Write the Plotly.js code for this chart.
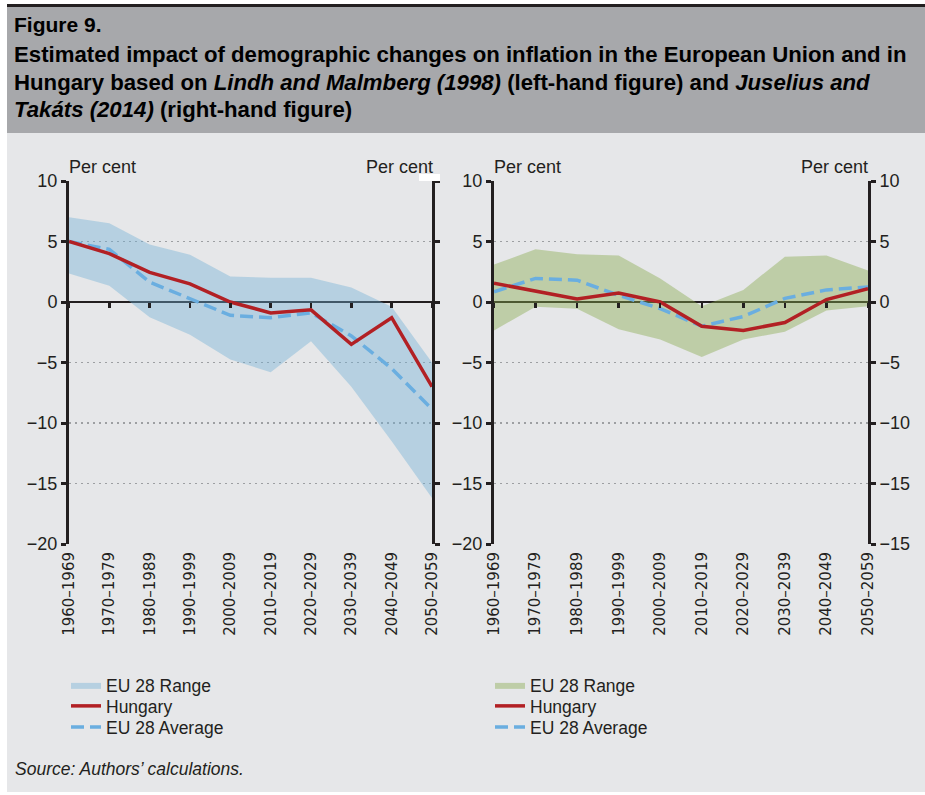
<!DOCTYPE html>
<html><head><meta charset="utf-8">
<script src="https://cdn.plot.ly/plotly-3.0.1.min.js"></script>
<style>html,body{margin:0;padding:0;background:#fff;} #chart{width:925px;height:795px;}</style>
</head><body><div id="chart"></div>
<script>
const periods = ['1960–1969','1970–1979','1980–1989','1990–1999','2000–2009','2010–2019','2020–2029','2030–2039','2040–2049','2050–2059'];
// Left: Lindh and Malmberg (1998)
const lmHungary   = [5.0, 4.0, 2.45, 1.5, 0.0, -0.9, -0.65, -3.5, -1.3, -7.0];
const lmAverage   = [5.0, 4.35, 1.65, 0.3, -1.1, -1.3, -0.9, -2.8, -5.5, -8.85];
const lmRangeHigh = [7.0, 6.5, 4.75, 3.9, 2.1, 2.0, 2.0, 1.2, -0.4, -5.0];
const lmRangeLow  = [2.35, 1.35, -1.25, -2.7, -4.75, -5.8, -3.25, -7.0, -11.5, -16.2];
// Right: Juselius and Takáts (2014)
const jtHungary   = [1.55, 0.9, 0.25, 0.75, 0.0, -2.0, -2.35, -1.7, 0.2, 1.1];
const jtAverage   = [0.85, 1.95, 1.8, 0.55, -0.55, -2.0, -1.2, 0.3, 1.0, 1.25];
const jtRangeHigh = [3.1, 4.35, 3.95, 3.85, 1.95, -0.35, 1.0, 3.75, 3.85, 2.6];
const jtRangeLow  = [-2.35, -0.4, -0.55, -2.25, -3.1, -4.55, -3.1, -2.45, -0.7, -0.35];
// Tick labels
const yTickVals = [10, 5, 0, -5, -10, -15, -20];
const yTickText = ['10', '5', '0', '−5', '−10', '−15', '−20'];
const y4TickText = ['10', '5', '0', '−5', '−10', '−15', '−15'];

const W = 925, H = 795;
const px = v => v / W;
const py = v => 1 - v / H;

const DARK = '#231f20';
const RED = '#b22024';
const LBLUE = '#6aaee0';
const BLUEFILL = 'rgba(110,174,213,0.40)';
const GREENFILL = 'rgba(135,170,77,0.42)';
const TXT = 'Liberation Sans, Arial, sans-serif';

const traces = [
  {x: periods, y: lmRangeLow, xaxis: 'x', yaxis: 'y', mode: 'lines', line: {width: 0}, showlegend: false, hoverinfo: 'skip'},
  {x: periods, y: lmRangeHigh, xaxis: 'x', yaxis: 'y', mode: 'lines', line: {width: 0}, fill: 'tonexty', fillcolor: BLUEFILL, name: 'EU 28 Range', legend: 'legend'},
  {x: periods, y: lmAverage, xaxis: 'x', yaxis: 'y2', mode: 'lines', line: {color: LBLUE, width: 3.5, dash: '13px,6px'}, name: 'EU 28 Average', legend: 'legend5'},
  {x: periods, y: lmHungary, xaxis: 'x3', yaxis: 'y', mode: 'lines', line: {color: RED, width: 3.5}, name: 'Hungary', legend: 'legend3'},
  {x: periods, y: jtRangeLow, xaxis: 'x2', yaxis: 'y3', mode: 'lines', line: {width: 0}, showlegend: false, hoverinfo: 'skip'},
  {x: periods, y: jtRangeHigh, xaxis: 'x2', yaxis: 'y3', mode: 'lines', line: {width: 0}, fill: 'tonexty', fillcolor: GREENFILL, name: 'EU 28 Range', legend: 'legend2'},
  {x: periods, y: jtAverage, xaxis: 'x2', yaxis: 'y4', mode: 'lines', line: {color: LBLUE, width: 3.5, dash: '13px,6px'}, name: 'EU 28 Average', legend: 'legend6'},
  {x: periods, y: jtHungary, xaxis: 'x4', yaxis: 'y3', mode: 'lines', line: {color: RED, width: 3.5}, name: 'Hungary', legend: 'legend4'}
];

const yDom = [py(544), py(181)];
const zeroPos = py(302);
const baseX = {
  type: 'category', range: [0, 9], showgrid: false, zeroline: false, showline: false,
  ticks: '', tickangle: -90, ticklabelstandoff: 4, tickfont: {family: 'DejaVu Sans', size: 15, color: DARK}, fixedrange: true
};
const zeroX = {
  type: 'category', range: [0, 9], showgrid: false, zeroline: false, showline: false,
  ticks: 'outside', ticklen: 5, tickwidth: 2.5, tickcolor: DARK, showticklabels: false,
  anchor: 'free', position: zeroPos, fixedrange: true
};
const baseY = {
  range: [-20, 10], domain: yDom, tickvals: yTickVals, ticktext: yTickText,
  showline: true, linewidth: 3, linecolor: DARK, ticks: 'outside', ticklen: 5, tickwidth: 3, tickcolor: DARK,
  tickfont: {family: TXT, size: 18, color: DARK},
  showgrid: true, gridcolor: '#9d9fa2', gridwidth: 1.5, griddash: '2px,4px',
  zeroline: true, zerolinecolor: DARK, zerolinewidth: 2.5, fixedrange: true
};
const sideY = {
  range: [-20, 10], tickvals: yTickVals, side: 'right',
  showline: true, linewidth: 3, linecolor: DARK, ticks: 'outside', ticklen: 5, tickwidth: 3, tickcolor: DARK,
  showgrid: false, zeroline: false, fixedrange: true
};
function leg(xp, yp) {
  return {x: px(xp), y: py(yp), xanchor: 'left', yanchor: 'middle', bgcolor: 'rgba(0,0,0,0)',
    font: {family: TXT, size: 17.5, color: DARK}, tracegroupgap: 0};
}

const layout = {
  width: W, height: H,
  margin: {l: 0, r: 0, t: 0, b: 0},
  paper_bgcolor: '#ffffff', plot_bgcolor: 'rgba(0,0,0,0)',
  showlegend: true,
  xaxis: Object.assign({}, baseX, {domain: [px(69), px(432)], anchor: 'y'}),
  xaxis2: Object.assign({}, baseX, {domain: [px(494), px(868)], anchor: 'y3'}),
  xaxis3: Object.assign({}, zeroX, {overlaying: 'x'}),
  xaxis4: Object.assign({}, zeroX, {overlaying: 'x2'}),
  yaxis: Object.assign({}, baseY, {anchor: 'x', side: 'left'}),
  yaxis2: Object.assign({}, sideY, {anchor: 'x', overlaying: 'y', showticklabels: false}),
  yaxis3: Object.assign({}, baseY, {anchor: 'x2', side: 'left'}),
  yaxis4: Object.assign({}, sideY, {anchor: 'x2', overlaying: 'y3', ticktext: y4TickText, showticklabels: true,
    tickfont: {family: TXT, size: 18, color: DARK}}),
  legend: leg(66, 685),
  legend3: leg(66, 706),
  legend5: leg(66, 727),
  legend2: leg(490, 685),
  legend4: leg(490, 706),
  legend6: leg(490, 727),
  shapes: [
    {type: 'rect', xref: 'paper', yref: 'paper', x0: px(7), x1: 1, y0: py(792), y1: py(4), fillcolor: '#e6e7e9', line: {width: 0}, layer: 'below'},
    {type: 'rect', xref: 'paper', yref: 'paper', x0: px(7), x1: 1, y0: py(133), y1: py(7), fillcolor: '#a7a8ab', line: {width: 0}, layer: 'below'},
    {type: 'rect', xref: 'paper', yref: 'paper', x0: px(7), x1: 1, y0: py(7), y1: py(4), fillcolor: DARK, line: {width: 0}, layer: 'below'},
    {type: 'rect', xref: 'paper', yref: 'paper', x0: px(419), x1: px(440), y0: py(181), y1: py(174), fillcolor: '#ffffff', line: {width: 0}, layer: 'above'}
  ],
  annotations: [
    {text: '<b>Figure 9.</b>', x: px(12), y: py(25), xref: 'paper', yref: 'paper', xanchor: 'left', yanchor: 'middle', showarrow: false, font: {family: TXT, size: 21, color: '#000'}},
    {text: '<b>Estimated impact of demographic changes on inflation in the European Union and in</b>', x: px(12), y: py(55), xref: 'paper', yref: 'paper', xanchor: 'left', yanchor: 'middle', showarrow: false, font: {family: TXT, size: 22.2, color: '#000'}},
    {text: '<b>Hungary based on <i>Lindh and Malmberg (1998)</i> (left-hand figure) and <i>Juselius and</i></b>', x: px(12), y: py(83), xref: 'paper', yref: 'paper', xanchor: 'left', yanchor: 'middle', showarrow: false, font: {family: TXT, size: 22.2, color: '#000'}},
    {text: '<b><i>Takáts (2014)</i> (right-hand figure)</b>', x: px(12), y: py(110), xref: 'paper', yref: 'paper', xanchor: 'left', yanchor: 'middle', showarrow: false, font: {family: TXT, size: 22.2, color: '#000'}},
    {text: 'Per cent', x: px(67), y: py(167), xref: 'paper', yref: 'paper', xanchor: 'left', yanchor: 'middle', showarrow: false, font: {family: TXT, size: 18, color: DARK}},
    {text: 'Per cent', x: px(435), y: py(167), xref: 'paper', yref: 'paper', xanchor: 'right', yanchor: 'middle', showarrow: false, font: {family: TXT, size: 18, color: DARK}},
    {text: 'Per cent', x: px(492), y: py(167), xref: 'paper', yref: 'paper', xanchor: 'left', yanchor: 'middle', showarrow: false, font: {family: TXT, size: 18, color: DARK}},
    {text: 'Per cent', x: px(870), y: py(167), xref: 'paper', yref: 'paper', xanchor: 'right', yanchor: 'middle', showarrow: false, font: {family: TXT, size: 18, color: DARK}},
    {text: '<i>Source: Authors’ calculations.</i>', x: px(13), y: py(769), xref: 'paper', yref: 'paper', xanchor: 'left', yanchor: 'middle', showarrow: false, font: {family: TXT, size: 17.5, color: DARK}}
  ]
};

Plotly.newPlot('chart', traces, layout, {displayModeBar: false, staticPlot: true});
</script>
</body></html>
